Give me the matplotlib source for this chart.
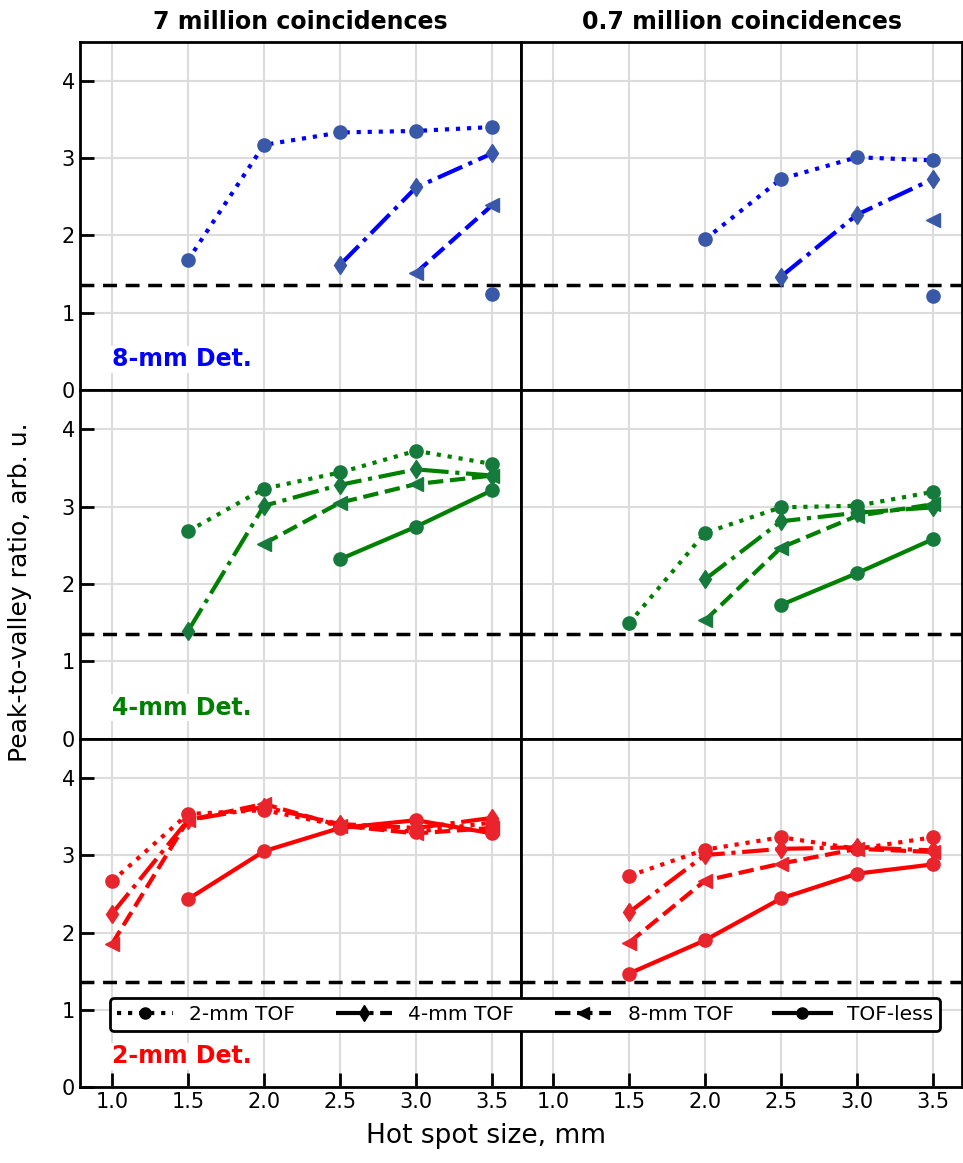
import numpy as np
import matplotlib
matplotlib.use("Agg")
from matplotlib import pyplot as plt
from matplotlib.lines import Line2D

nan = np.nan

# hot spot sizes, mm
sizes = [1.0, 1.5, 2.0, 2.5, 3.0, 3.5]

# ------ 7 million coincidences (left column)
det8_7m_tof2 = [nan, 1.68, 3.17, 3.33, 3.35, 3.40]
det8_7m_tof4 = [nan, nan, nan, 1.62, 2.62, 3.06]
det8_7m_tof8 = [nan, nan, nan, nan, 1.52, 2.39]
det8_7m_nt = [nan, nan, nan, nan, nan, 1.25]

det4_7m_tof2 = [nan, 2.68, 3.23, 3.44, 3.72, 3.55]
det4_7m_tof4 = [nan, 1.39, 3.01, 3.28, 3.48, 3.40]
det4_7m_tof8 = [nan, nan, 2.52, 3.05, 3.29, 3.40]
det4_7m_nt = [nan, nan, nan, 2.32, 2.74, 3.21]

det2_7m_tof2 = [2.66, 3.53, 3.58, 3.38, 3.30, 3.42]
det2_7m_tof4 = [2.24, 3.45, 3.62, 3.40, 3.35, 3.48]
det2_7m_tof8 = [1.85, 3.45, 3.66, 3.38, 3.28, 3.35]
det2_7m_nt = [nan, 2.43, 3.05, 3.35, 3.45, 3.28]

# ------ 0.7 million coincidences (right column)
det8_07m_tof2 = [nan, nan, 1.95, 2.73, 3.01, 2.97]
det8_07m_tof4 = [nan, nan, nan, 1.47, 2.27, 2.73]
det8_07m_tof8 = [nan, nan, nan, nan, nan, 2.20]
det8_07m_nt = [nan, nan, nan, nan, nan, 1.22]

det4_07m_tof2 = [nan, 1.49, 2.66, 2.99, 3.01, 3.19]
det4_07m_tof4 = [nan, nan, 2.06, 2.81, 2.92, 2.99]
det4_07m_tof8 = [nan, nan, 1.53, 2.47, 2.88, 3.03]
det4_07m_nt = [nan, nan, nan, 1.73, 2.14, 2.58]

det2_07m_tof2 = [nan, 2.73, 3.07, 3.23, 3.08, 3.23]
det2_07m_tof4 = [nan, 2.26, 3.00, 3.08, 3.10, 3.06]
det2_07m_tof8 = [nan, 1.87, 2.67, 2.89, 3.08, 3.04]
det2_07m_nt = [nan, 1.47, 1.90, 2.44, 2.76, 2.88]

threshold = 1.36

col_titles = ["7 million coincidences", "0.7 million coincidences"]
row_labels = ["8-mm Det.", "4-mm Det.", "2-mm Det."]
series_labels = ["2-mm TOF", "4-mm TOF", "8-mm TOF", "TOF-less"]

panels = [
    [[det8_7m_tof2, det8_7m_tof4, det8_7m_tof8, det8_7m_nt],
     [det8_07m_tof2, det8_07m_tof4, det8_07m_tof8, det8_07m_nt]],
    [[det4_7m_tof2, det4_7m_tof4, det4_7m_tof8, det4_7m_nt],
     [det4_07m_tof2, det4_07m_tof4, det4_07m_tof8, det4_07m_nt]],
    [[det2_7m_tof2, det2_7m_tof4, det2_7m_tof8, det2_7m_nt],
     [det2_07m_tof2, det2_07m_tof4, det2_07m_tof8, det2_07m_nt]],
]

line_colors = ["blue", "green", "red"]
marker_colors = ["#3a58a8", "#167a3c", "#e8242c"]
styles = [":", "-.", "--", "-"]
markers = ["o", "d", "<", "o"]

fig, axes = plt.subplots(3, 2, figsize=(9.63, 11.63), dpi=100,
                         sharex=True, sharey=True)
fig.subplots_adjust(left=0.083, right=0.999, top=0.964, bottom=0.065,
                    wspace=0, hspace=0)

for r in range(3):
    for c in range(2):
        ax = axes[r, c]
        ax.grid(True, color="#dcdcdc", lw=1.5, zorder=0)
        ax.set_axisbelow(True)
        for i, ys in enumerate(panels[r][c]):
            ax.plot(sizes, ys, linestyle=styles[i], color=line_colors[r],
                    lw=3, marker=markers[i], ms=9.5,
                    mfc=marker_colors[r], mec=marker_colors[r], zorder=3)
        ax.axhline(threshold, color="k", lw=2.5, ls=(0, (4, 2.5)), zorder=2)
        ax.set_xlim(0.79, 3.69)
        ax.set_ylim(0, 4.5)
        ax.set_xticks(sizes)
        ax.set_yticks([0, 1, 2, 3, 4])
        for s in ax.spines.values():
            s.set_linewidth(2)
        ax.tick_params(direction="in", length=10, width=2, labelsize=15)
        if c == 1:
            ax.tick_params(axis="y", length=0, labelleft=False)
        if r < 2:
            ax.tick_params(axis="x", length=0, labelbottom=False)
        if c == 0:
            ax.text(1.0, 0.4, row_labels[r], color=line_colors[r],
                    fontsize=17, fontweight="bold", va="center", ha="left",
                    bbox=dict(facecolor="white", edgecolor="none", pad=1),
                    zorder=4)
        if r == 0:
            ax.set_title(col_titles[c], fontsize=17, fontweight="bold", pad=9)

handles = [Line2D([], [], color="k", ls=styles[i], lw=3, marker=markers[i], ms=8)
           for i in range(4)]
leg = fig.legend(handles, series_labels, ncol=4, mode="expand",
                 loc="center", fontsize=14.5, handlelength=2.8,
                 bbox_to_anchor=(0.114, 0.1115, 0.862, 0.032),
                 fancybox=True, framealpha=1, borderaxespad=0,
                 borderpad=0.35)
leg.get_frame().set_edgecolor("k")
leg.get_frame().set_linewidth(2)

fig.text(0.505, 0.012, "Hot spot size, mm", ha="center", va="bottom", fontsize=19)
fig.text(0.008, 0.491, "Peak-to-valley ratio, arb. u.", ha="left", va="center",
         rotation=90, fontsize=18)

plt.savefig("out.png")
